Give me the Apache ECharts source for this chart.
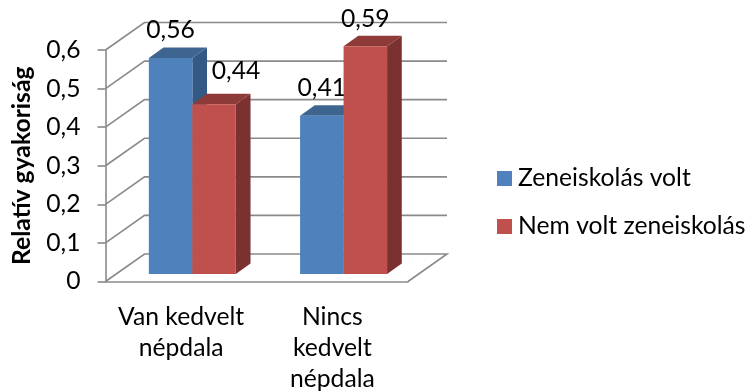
<!DOCTYPE html>
<html>
<head>
<meta charset="utf-8">
<style>
html,body{margin:0;padding:0;background:#fff}
#chart{width:747px;height:392px}
</style>
<script src="https://cdn.jsdelivr.net/npm/echarts@6/dist/echarts.min.js"></script>
</head>
<body>
<div id="chart"></div>
<script>
// adatok
var categories = ['Van kedvelt\nnépdala', 'Nincs\nkedvelt\nnépdala'];
var zeneiskolas = [0.56, 0.41];
var nemVolt = [0.44, 0.59];
var yTicks = [0, 0.1, 0.2, 0.3, 0.4, 0.5, 0.6];

var FONT = 'Lato';
var FS = 24.7;
var WALL = '#8a8a8a';
// 3D projection: depth of the floor and of a bar, in px
var depthX = 39, depthY = 27.5;
var barDepthX = 14.7, barDepthY = 10.5;
var barFrontX = 11.2, barFrontY = 7.5;
var barW = 43.5;

function comma(v) {
    return String(v).replace('.', ',');
}

// walls and floor behind the bars
function renderWall(params, api) {
    var cs = params.coordSys;
    var y = api.coord([0, api.value(1)])[1];
    var left = cs.x, right = cs.x + cs.width;
    var style = {stroke: WALL, lineWidth: 1.6, fill: null};
    var pts = [[left, y], [left + depthX, y - depthY], [right + depthX, y - depthY]];
    if (api.value(1) === 0) {
        pts.push([right, y]);
    }
    return {type: 'polyline', shape: {points: pts}, style: style, silent: true};
}

function renderBar(offset, topColor, sideColor, nudges) {
    return function (params, api) {
        var c = api.coord([api.value(0), api.value(1)]);
        var base = api.coord([api.value(0), 0]);
        var x0 = c[0] + barFrontX + offset * barW;
        var x1 = x0 + barW;
        var yTop = c[1] - barFrontY;
        var yBase = base[1] - barFrontY;
        var n = nudges[params.dataIndex] || [0, 0];
        return {
            type: 'group',
            children: [
                {type: 'polygon', shape: {points: [[x1, yTop], [x1 + barDepthX, yTop - barDepthY], [x1 + barDepthX, yBase - barDepthY], [x1, yBase]]}, style: {fill: sideColor}},
                {type: 'polygon', shape: {points: [[x0, yTop], [x0 + barDepthX, yTop - barDepthY], [x1 + barDepthX, yTop - barDepthY], [x1, yTop]]}, style: {fill: topColor}},
                {type: 'rect', shape: {x: x0, y: yTop, width: barW, height: yBase - yTop}, style: {fill: api.visual('color')}},
                {
                    type: 'text', z2: 10,
                    style: {
                        x: x0 + barW / 2 + n[0], y: yTop - barDepthY - 17 + n[1],
                        text: comma(api.value(1)),
                        fill: '#000', font: FS + 'px ' + FONT, align: 'center', verticalAlign: 'middle'
                    }
                }
            ]
        };
    };
}

var myChart = echarts.init(document.getElementById('chart'), null, {renderer: 'canvas'});
myChart.setOption({
    animation: false,
    backgroundColor: '#fff',
    grid: {left: 105.5, right: 339, top: 50, bottom: 110.5, containLabel: false, outerBoundsMode: 'none'},
    legend: {
        data: ['Zeneiskolás volt', 'Nem volt zeneiskolás'],
        orient: 'vertical',
        left: 492, top: 161,
        itemWidth: 15, itemHeight: 15, itemGap: 23,
        icon: 'rect',
        textStyle: {fontFamily: FONT, fontSize: FS, color: '#000', padding: [0, 0, 0, 1]}
    },
    xAxis: {
        type: 'category',
        data: categories,
        axisLine: {lineStyle: {color: WALL, width: 1.6}},
        axisTick: {length: 7, lineStyle: {color: WALL, width: 1.6}},
        axisLabel: {fontFamily: FONT, fontSize: FS, color: '#000', lineHeight: 31, margin: 20, interval: 0}
    },
    yAxis: {
        type: 'value',
        min: 0, max: 0.6, interval: 0.1,
        name: 'Relatív gyakoriság',
        nameLocation: 'middle',
        nameGap: 71,
        nameTextStyle: {fontFamily: FONT, fontSize: FS, fontWeight: 'bold', color: '#000'},
        axisLine: {show: true, lineStyle: {color: WALL, width: 1.6}},
        axisTick: {show: true, length: 8, lineStyle: {color: WALL, width: 1.6}},
        splitLine: {show: false},
        axisLabel: {
            fontFamily: FONT, fontSize: FS, color: '#000', margin: 25,
            formatter: function (v) { return comma(v); }
        }
    },
    series: [
        {
            type: 'custom', name: 'fal', z: 1,
            renderItem: renderWall,
            data: yTicks.map(function (v) { return [0, v]; }),
            encode: {x: 0, y: 1}
        },
        {
            type: 'custom', name: 'Zeneiskolás volt', z: 2,
            itemStyle: {color: '#4F81BD'},
            renderItem: renderBar(-1, '#3E6590', '#335A85', {}),
            data: zeneiskolas.map(function (v, i) { return [i, v]; }),
            encode: {x: 0, y: 1}
        },
        {
            type: 'custom', name: 'Nem volt zeneiskolás', z: 3,
            itemStyle: {color: '#C0504D'},
            renderItem: renderBar(0, '#8E3A38', '#7A3130', {0: [22, -6]}),
            data: nemVolt.map(function (v, i) { return [i, v]; }),
            encode: {x: 0, y: 1}
        }
    ]
});
</script>
</body>
</html>
